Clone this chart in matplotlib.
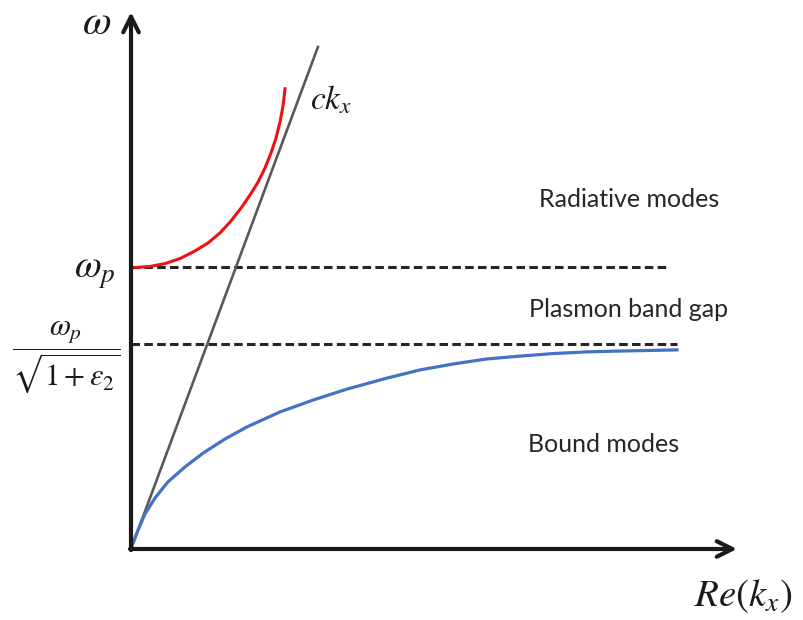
import matplotlib
matplotlib.use("Agg")
from matplotlib import pyplot as plt

# Dispersion sketch: k in units where the light line has slope 1, omega in units of omega_p
light_k = [0.0, 1.78]
light_w = [0.0, 1.78]

red_k = [0.038, 0.181, 0.324, 0.467, 0.610, 0.733, 0.848, 0.952, 1.048, 1.133,
         1.210, 1.276, 1.333, 1.381, 1.419, 1.448, 1.467]
red_w = [0.998, 1.002, 1.012, 1.030, 1.057, 1.085, 1.121, 1.163, 1.209, 1.255,
         1.301, 1.351, 1.404, 1.457, 1.514, 1.571, 1.632]

blue_k = [0.0, 0.008, 0.019, 0.067, 0.133, 0.229, 0.352, 0.514, 0.686, 0.895, 1.105,
          1.419, 1.733, 2.057, 2.438, 2.752, 3.067, 3.390, 3.705, 4.019, 4.343,
          4.657, 4.943, 5.200]
blue_w = [0.0, 0.010, 0.021, 0.067, 0.124, 0.181, 0.238, 0.291, 0.340, 0.390, 0.433,
          0.486, 0.528, 0.567, 0.606, 0.635, 0.656, 0.674, 0.684, 0.693, 0.699,
          0.702, 0.704, 0.706]

w_p = 1.0
w_sp = 0.727          # omega_p / sqrt(1 + eps2)
wp_line_end = 5.105
wsp_line_end = 5.20

region_labels = ["Radiative modes", "Plasmon band gap", "Bound modes"]
region_k = [3.886, 3.790, 3.781]
region_w = [1.238, 0.848, 0.369]

plt.rcParams["mathtext.fontset"] = "stix"

fig = plt.figure(figsize=(8.04, 6.2), dpi=100)
ax = fig.add_axes([0, 0, 1, 1])
ax.set_xlim(-1.2476, 6.4095)
ax.set_ylim(-0.2518, 1.9468)
ax.axis("off")

# axes with open arrow heads
arrow_kw = dict(arrowstyle="->", lw=3.0, color="#1a1a1a", mutation_scale=28,
                shrinkA=0, shrinkB=0)
ax.annotate("", xy=(0, 1.904), xytext=(0, -0.004), arrowprops=arrow_kw)
ax.annotate("", xy=(5.771, 0), xytext=(-0.01, 0), arrowprops=arrow_kw)

# band edges
ax.plot([0, wp_line_end], [w_p, w_p], color="#262626", lw=2.2, dashes=(2.8, 1.4))
ax.plot([0, wsp_line_end], [w_sp, w_sp], color="#262626", lw=2.2, dashes=(2.8, 1.4))

ax.plot(light_k, light_w, color="#595959", lw=1.9)
ax.plot(red_k, red_w, color="#ee1111", lw=2.2, solid_joinstyle="round")
ax.plot(blue_k, blue_w, color="#4472c4", lw=2.3, solid_joinstyle="round")

# math labels
ax.text(-0.324, 1.869, r"$\omega$", fontsize=30, ha="center", va="center", color="#1a1a1a")
ax.text(-0.152, 0.982, r"$\omega_p$", fontsize=28, ha="right", va="center", color="#1a1a1a")
ax.text(1.705, 1.592, r"$ck_x$", fontsize=24, ha="left", va="center", color="#1a1a1a")
ax.text(-0.619, 0.681, r"$\dfrac{\omega_p}{\sqrt{1+\varepsilon_2}}$", fontsize=22,
        ha="center", va="center", color="#1a1a1a")
ax.text(6.30, -0.168, r"$Re(k_x)$", fontsize=28, ha="right", va="center", color="#1a1a1a")

for label, k, w in zip(region_labels, region_k, region_w):
    ax.text(k, w, label, fontsize=18, family="Lato", ha="left", va="center",
            color="#262626")

fig.savefig("out.png", dpi=100)
